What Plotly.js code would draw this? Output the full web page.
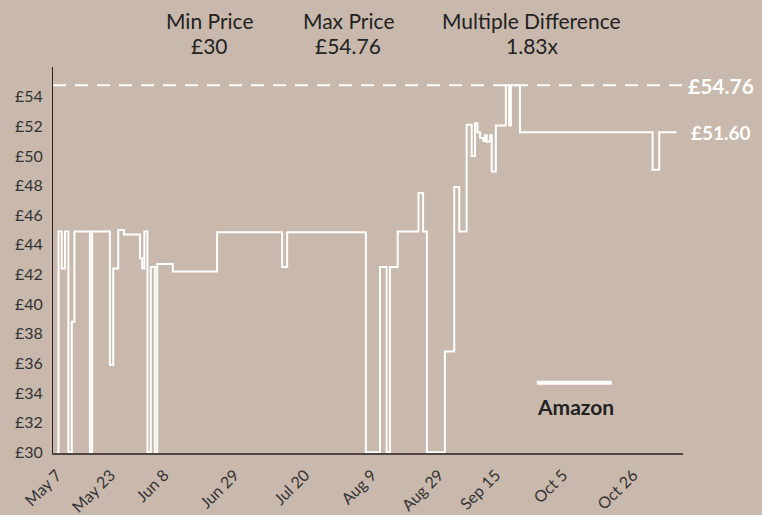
<!DOCTYPE html>
<html><head><meta charset="utf-8">
<script src="https://cdn.plot.ly/plotly-3.0.1.min.js"></script>
<style>html,body{margin:0;padding:0;background:#c9b9ad;}</style>
</head><body><div id="chart" style="width:762px;height:515px;"></div>
<script>
const dates = [
 '2023-05-07 00:00','2023-05-07 11:00','2023-05-08 10:00','2023-05-09 10:00','2023-05-10 10:00',
 '2023-05-11 10:00','2023-05-12 05:00','2023-05-16 20:00','2023-05-17 12:00','2023-05-22 19:00',
 '2023-05-23 19:00','2023-05-25 07:00','2023-05-27 00:00','2023-05-31 19:00','2023-06-01 10:00',
 '2023-06-02 02:00','2023-06-03 00:00','2023-06-04 00:00','2023-06-05 05:00','2023-06-05 22:00',
 '2023-06-10 14:00','2023-06-23 19:00','2023-07-13 05:00','2023-07-14 17:00','2023-08-07 05:00',
 '2023-08-11 10:00','2023-08-13 10:00','2023-08-14 10:00','2023-08-16 17:00','2023-08-22 22:00',
 '2023-08-24 07:00','2023-08-25 10:00','2023-08-30 19:00','2023-09-02 14:00','2023-09-04 02:00',
 '2023-09-06 07:00','2023-09-07 19:00','2023-09-08 19:00','2023-09-09 12:00','2023-09-10 07:00',
 '2023-09-11 07:00','2023-09-11 19:00','2023-09-12 07:00','2023-09-13 07:00','2023-09-13 19:00',
 '2023-09-15 00:00','2023-09-18 00:00','2023-09-19 00:00','2023-09-19 12:00','2023-09-22 05:00',
 '2023-10-31 19:00','2023-11-02 19:00','2023-11-08 00:00'
];
const prices = [
 30, 44.9, 42.4, 44.9, 30,
 38.8, 44.9, 30, 44.9, 35.9,
 42.4, 45.0, 44.7, 43.1, 42.4,
 44.9, 30, 42.5, 30, 42.7,
 42.2, 44.85, 42.5, 44.85, 30,
 42.5, 30, 42.5, 44.9, 47.5,
 44.9, 30, 36.8, 47.9, 44.9,
 52.1, 50.0, 52.2, 51.6, 51.2,
 51.0, 51.4, 50.95, 51.4, 48.95,
 52.05, 54.76, 52.05, 54.76, 51.6,
 49.07, 51.6, 51.6
];
const tickDates = ['2023-05-07','2023-05-23','2023-06-08','2023-06-29','2023-07-20','2023-08-09','2023-08-29','2023-09-15','2023-10-05','2023-10-26'];
const tickLabels = ['May 7','May 23','Jun 8','Jun 29','Jul 20','Aug 9','Aug 29','Sep 15','Oct 5','Oct 26'];
const yTickValues = [30,32,34,36,38,40,42,44,46,48,50,52,54];
const yTickLabels = ['£30','£32','£34','£36','£38','£40','£42','£44','£46','£48','£50','£52','£54'];
const minPrice = 30;
const maxPrice = 54.76;
const lastPrice = 51.60;
const multipleText = '1.83x';
const seriesName = 'Amazon';

const FONT = 'Lato, "Open Sans", sans-serif';
const BG = '#c9b9ad';

const trace = {
  x: dates, y: prices, type: 'scatter', mode: 'lines', name: seriesName,
  line: {color: '#ffffff', width: 2, shape: 'hv'}, hoverinfo: 'skip'
};

const header = (x, y, text) => ({xref:'paper', yref:'paper', x:x, y:y, text:text, showarrow:false,
  xanchor:'center', yanchor:'middle', font:{family:FONT, size:21, color:'#222'}});

const layout = {
  width: 762, height: 515,
  margin: {l: 53, r: 79, t: 67, b: 62},
  paper_bgcolor: BG, plot_bgcolor: BG,
  showlegend: false,
  font: {family: FONT, color: '#333'},
  xaxis: {
    type: 'date', range: ['2023-05-05 19:30', '2023-11-09 21:00'],
    tickvals: tickDates, ticktext: tickLabels, tickangle: -45,
    showgrid: false, zeroline: false, showline: true, linecolor: '#4f4641', linewidth: 1.5,
    ticks: '', ticklabelstandoff: 5, tickfont: {family: FONT, size: 16, color: '#333'}
  },
  yaxis: {
    range: [29.95, 56.0], tickvals: yTickValues, ticktext: yTickLabels,
    showgrid: false, zeroline: false, showline: true, linecolor: '#222', linewidth: 1,
    ticks: '', ticklabelstandoff: 6, tickfont: {family: FONT, size: 16, color: '#333'}
  },
  shapes: [
    {type:'line', xref:'paper', yref:'y', x0:0, x1:1, y0:maxPrice, y1:maxPrice,
     line:{color:'#ffffff', width:2, dash:'13px,9px'}},
    {type:'line', xref:'paper', yref:'paper', x0:0.768, x1:0.887, y0:0.182, y1:0.182,
     line:{color:'#ffffff', width:4}}
  ],
  annotations: [
    header(0.249, 1.12, 'Min Price'),
    header(0.249, 1.055, '£' + minPrice),
    header(0.469, 1.12, 'Max Price'),
    header(0.469, 1.055, '£' + maxPrice.toFixed(2)),
    header(0.760, 1.12, 'Multiple Difference'),
    header(0.761, 1.055, multipleText),
    {xref:'paper', yref:'y', x:1.061, y:maxPrice, text:'<b>£' + maxPrice.toFixed(2) + '</b>', showarrow:false,
     xanchor:'center', yanchor:'middle', font:{family:FONT, size:21, color:'#ffffff'}},
    {xref:'paper', yref:'y', x:1.060, y:lastPrice, text:'<b>£' + lastPrice.toFixed(2) + '</b>', showarrow:false,
     xanchor:'center', yanchor:'middle', font:{family:FONT, size:19, color:'#ffffff'}},
    {xref:'paper', yref:'paper', x:0.829, y:0.12, text:'<b>' + seriesName + '</b>', showarrow:false,
     xanchor:'center', yanchor:'middle', font:{family:FONT, size:21, color:'#222'}}
  ]
};

Plotly.newPlot('chart', [trace], layout, {displayModeBar: false, staticPlot: true});
</script></body></html>
